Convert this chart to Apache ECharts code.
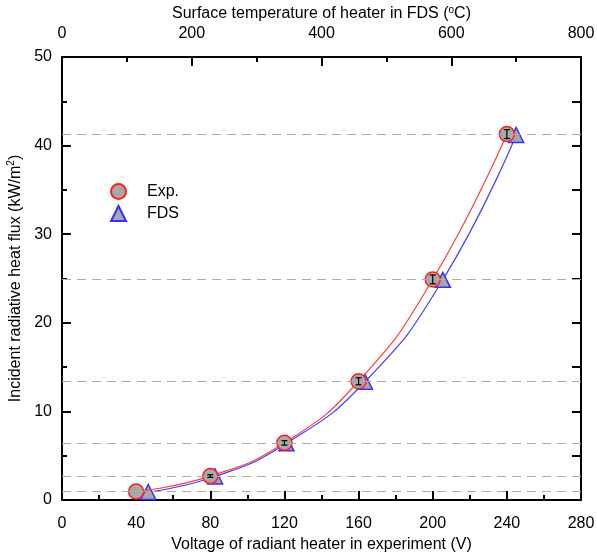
<!DOCTYPE html>
<html><head><meta charset="utf-8">
<script src="https://cdn.jsdelivr.net/npm/echarts@6/dist/echarts.min.js"></script>
<style>html,body{margin:0;padding:0;background:#fff}#c{width:597px;height:552px}</style>
</head><body><div id="c"></div>
<script>
const voltage = [40, 80, 120, 160, 200, 240];
const expFlux = [0.95, 2.7, 6.45, 13.4, 24.9, 41.3];
const expErr = [0, 0.15, 0.25, 0.4, 0.5, 0.5];
const fdsTemp = [133, 236, 346, 467, 587, 700];
const fdsFlux = [0.9, 2.65, 6.4, 13.35, 24.85, 41.2];
const refLevels = [0.95, 2.7, 6.45, 13.4, 24.9, 41.3];
const bottomTicks = [0, 40, 80, 120, 160, 200, 240, 280];
const topTicks = [0, 200, 400, 600, 800];
const leftTicks = [0, 10, 20, 30, 40, 50];

const FONT = 'Liberation Sans, Arial, sans-serif';
const chart = echarts.init(document.getElementById('c'));
const lab = {fontFamily: FONT, fontSize: 16, color: '#000'};
const axLine = {show: true, onZero: false, lineStyle: {color: '#000', width: 2}};

chart.setOption({
  animation: false,
  grid: {left: 62, right: 16, top: 57, bottom: 52, show: false, containLabel: false, outerBoundsMode: 'none'},
  legend: {
    left: 105, top: 178, orient: 'vertical', itemGap: 5,
    itemWidth: 15, itemHeight: 15,
    textStyle: Object.assign({}, lab, {padding: [0, 0, 0, 16]}),
    data: [{name: 'Exp.', icon: 'circle'}, {name: 'FDS', icon: 'triangle'}]
  },
  xAxis: [
    {type: 'value', position: 'bottom', min: bottomTicks[0], max: bottomTicks[bottomTicks.length-1], interval: 40,
     name: 'Voltage of radiant heater in experiment (V)', nameLocation: 'middle', nameGap: 35,
     nameTextStyle: lab, axisLine: axLine,
     axisTick: {show: true, inside: true, length: 9, lineStyle: {color: '#000', width: 2}},
     minorTick: {show: true, splitNumber: 2, length: 5, lineStyle: {color: '#000', width: 2}},
     axisLabel: Object.assign({margin: 16}, lab), splitLine: {show: false}},
    {type: 'value', position: 'top', min: topTicks[0], max: topTicks[topTicks.length-1], interval: 200,
     name: 'Surface temperature of heater in FDS ({s|o}C)', nameLocation: 'middle', nameGap: 34,
     nameTextStyle: Object.assign({rich: {s: {fontFamily: FONT, fontSize: 10, verticalAlign: 'top', lineHeight: 16, padding: [0,0,6,0]}}}, lab),
     axisLine: axLine,
     axisTick: {show: true, inside: true, length: 9, lineStyle: {color: '#000', width: 2}},
     minorTick: {show: true, splitNumber: 2, length: 5, lineStyle: {color: '#000', width: 2}},
     axisLabel: Object.assign({margin: 15}, lab), splitLine: {show: false}},
  ],
  yAxis: [
    {type: 'value', position: 'left', min: leftTicks[0], max: leftTicks[leftTicks.length-1], interval: 10,
     name: 'Incident radiative heat flux (kW/m{s|2})', nameLocation: 'middle', nameGap: 29,
     nameTextStyle: Object.assign({rich: {s: {fontFamily: FONT, fontSize: 10, padding: [0,0,8,0]}}}, lab),
     axisLine: axLine,
     axisTick: {show: true, inside: true, length: 9, lineStyle: {color: '#000', width: 2}},
     minorTick: {show: true, splitNumber: 2, length: 5, lineStyle: {color: '#000', width: 2}},
     axisLabel: Object.assign({margin: 10}, lab), splitLine: {show: false}},
    {type: 'value', position: 'right', min: 0, max: 50, interval: 10,
     axisLine: axLine,
     axisTick: {show: true, inside: true, length: 9, lineStyle: {color: '#000', width: 2}},
     minorTick: {show: true, splitNumber: 2, length: 9, lineStyle: {color: '#000', width: 2}},
     axisLabel: {show: false}, splitLine: {show: false}}
  ],
  series: [
    {name: 'FDS', type: 'line', xAxisIndex: 1, yAxisIndex: 0, smooth: 0.5,
     data: fdsTemp.map((t, i) => [t, fdsFlux[i]]),
     symbol: 'triangle', symbolSize: 15,
     lineStyle: {color: '#4040ff', width: 1.2},
     itemStyle: {color: '#a8a8a8', borderColor: '#3030ff', borderWidth: 1.5},
     z: 3},
    {name: 'Exp.', type: 'line', xAxisIndex: 0, yAxisIndex: 0, smooth: 0.5,
     data: voltage.map((v, i) => [v, expFlux[i]]),
     symbol: 'circle', symbolSize: 15,
     lineStyle: {color: '#ff4040', width: 1.2},
     itemStyle: {color: '#a8a8a8', borderColor: '#ff2020', borderWidth: 1.5},
     markLine: {silent: true, symbol: 'none', label: {show: false},
       lineStyle: {color: '#aaaaaa', type: [9, 6], width: 1.2},
       data: refLevels.map(v => ({yAxis: v}))},
     z: 4},
    {name: 'err', type: 'custom', xAxisIndex: 0, yAxisIndex: 0, z: 6,
     data: voltage.map((v, i) => [v, expFlux[i], expErr[i]]),
     renderItem: function (params, api) {
       const x = api.value(0), y = api.value(1), e = api.value(2);
       if (!e) return null;
       const top = api.coord([x, y + e]), bot = api.coord([x, y - e]);
       const w = 3;
       const st = {stroke: '#000', lineWidth: 1.2};
       return {type: 'group', children: [
         {type: 'line', shape: {x1: top[0], y1: top[1], x2: bot[0], y2: bot[1]}, style: st},
         {type: 'line', shape: {x1: top[0]-w, y1: top[1], x2: top[0]+w, y2: top[1]}, style: st},
         {type: 'line', shape: {x1: bot[0]-w, y1: bot[1], x2: bot[0]+w, y2: bot[1]}, style: st}
       ]};
     }}
  ]
});
</script></body></html>
